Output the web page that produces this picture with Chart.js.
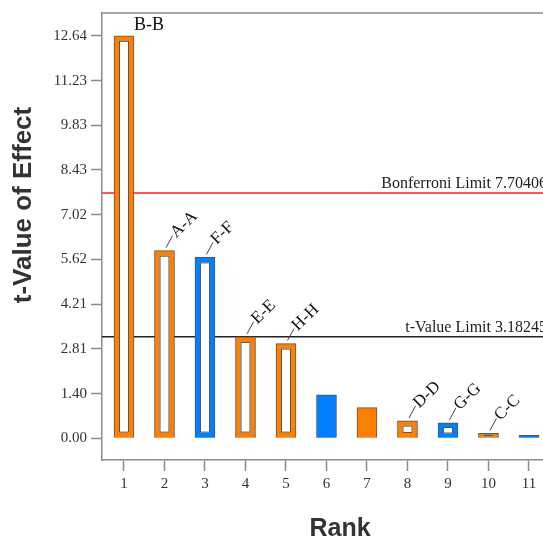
<!DOCTYPE html>
<html>
<head>
<meta charset="utf-8">
<script src="https://cdn.jsdelivr.net/npm/chart.js@4.4.1/dist/chart.umd.min.js"></script>
<style>
  html, body { margin: 0; padding: 0; background: #fff; overflow: hidden; }
  #wrap { width: 590px; height: 542px; }
</style>
</head>
<body>
<div id="wrap"><canvas id="pareto" width="590" height="542"></canvas></div>
<script>
const ranks = [1, 2, 3, 4, 5, 6, 7, 8, 9, 10, 11];
const tValues = [12.64, 5.89, 5.68, 3.18, 2.97, 1.36, 0.96, 0.54, 0.48, 0.15, 0.09];
const terms = ["B-B", "A-A", "F-F", "E-E", "H-H", "", "", "D-D", "G-G", "C-C", ""];
const effectSign = ["+", "+", "-", "+", "+", "-", "+", "+", "-", "+", "-"];
const inModel = [true, true, true, true, true, false, false, true, true, true, false];
const yTicks = [0.00, 1.40, 2.81, 4.21, 5.62, 7.02, 8.43, 9.83, 11.23, 12.64];
const bonferroniLimit = 7.70406;
const tValueLimit = 3.18245;

const ORANGE = "#ff8000";
const BLUE = "#0080ff";
const AXIS = "#8a8a8a";
const SERIF = "'Liberation Serif', 'DejaVu Serif', serif";
const SANS = "'Liberation Sans', Arial, sans-serif";

const X_MIN = 0.457, X_MAX = 12.21;
const Y_MIN = -0.687, Y_MAX = 13.358;

const hollowBars = {
  id: "hollowBars",
  afterDatasetsDraw(chart) {
    const ctx = chart.ctx;
    const meta = chart.getDatasetMeta(0);
    ctx.save();
    meta.data.forEach((bar, i) => {
      if (!inModel[i]) return;
      const h = bar.base - bar.y;
      const dy = Math.min(5, h * 0.28);
      const x0 = bar.x - bar.width / 2 + 5;
      const w = bar.width - 10;
      ctx.fillStyle = "#fff";
      ctx.fillRect(x0, bar.y + dy, w, h - 2 * dy);
      ctx.strokeStyle = "#555";
      ctx.lineWidth = 1;
      ctx.strokeRect(x0 + 0.5, bar.y + dy + 0.5, w - 1, Math.max(h - 2 * dy - 1, 0));
    });
    ctx.restore();
  }
};

const annotations = {
  id: "annotations",
  afterDraw(chart) {
    const ctx = chart.ctx;
    const area = chart.chartArea;
    const y = chart.scales.y;
    ctx.save();

    // top border of the plot box
    ctx.strokeStyle = AXIS;
    ctx.lineWidth = 1.5;
    ctx.beginPath();
    ctx.moveTo(area.left, area.top);
    ctx.lineTo(area.right, area.top);
    ctx.stroke();

    // limit texts
    ctx.fillStyle = "#222";
    ctx.font = "16px " + SERIF;
    ctx.textAlign = "right";
    ctx.textBaseline = "alphabetic";
    ctx.fillText("Bonferroni Limit " + bonferroniLimit, area.right - 31, y.getPixelForValue(bonferroniLimit) - 5);
    ctx.fillText("t-Value Limit " + tValueLimit, area.right - 31, y.getPixelForValue(tValueLimit) - 5);

    // term labels
    const meta = chart.getDatasetMeta(0);
    meta.data.forEach((bar, i) => {
      if (!terms[i]) return;
      ctx.fillStyle = "#111";
      ctx.font = "17px " + SERIF;
      if (bar.y - 45 < area.top) {
        ctx.font = "18px " + SERIF;
        ctx.textAlign = "left";
        ctx.fillText(terms[i], bar.x + bar.width / 2, bar.y - 6);
        return;
      }
      const x1 = bar.x + 1.5, y1 = bar.y - 3;
      const x2 = bar.x + 8, y2 = bar.y - 15;
      ctx.strokeStyle = "#444";
      ctx.lineWidth = 1;
      ctx.beginPath();
      ctx.moveTo(x1, y1);
      ctx.lineTo(x2, y2);
      ctx.stroke();
      ctx.save();
      ctx.translate(x2, y2);
      ctx.rotate(-44 * Math.PI / 180);
      ctx.textAlign = "left";
      ctx.textBaseline = "middle";
      ctx.fillText(terms[i], 1, 0);
      ctx.restore();
    });

    // axis titles
    ctx.fillStyle = "#333";
    ctx.font = "bold 25px " + SANS;
    ctx.textAlign = "center";
    ctx.textBaseline = "middle";
    ctx.fillText("Rank", 340, 529);
    ctx.save();
    ctx.translate(24, 205);
    ctx.rotate(-Math.PI / 2);
    ctx.font = "bold 26px " + SANS;
    ctx.fillText("t-Value of Effect", 0, 0);
    ctx.restore();

    ctx.restore();
  }
};

new Chart(document.getElementById("pareto"), {
  type: "bar",
  data: {
    datasets: [
      {
        type: "bar",
        data: ranks.map((r, i) => ({ x: r, y: tValues[i] })),
        backgroundColor: effectSign.map(s => (s === "+" ? ORANGE : BLUE)),
        borderColor: "#555",
        borderWidth: 1,
        barThickness: 20,
        order: 1
      },
      {
        type: "line",
        data: [{ x: X_MIN, y: bonferroniLimit }, { x: X_MAX, y: bonferroniLimit }],
        borderColor: "#ff5555",
        borderWidth: 2,
        pointRadius: 0,
        order: 2
      },
      {
        type: "line",
        data: [{ x: X_MIN, y: tValueLimit }, { x: X_MAX, y: tValueLimit }],
        borderColor: "#222",
        borderWidth: 1.5,
        pointRadius: 0,
        order: 3
      }
    ]
  },
  options: {
    responsive: false,
    animation: false,
    devicePixelRatio: 1,
    layout: { padding: { left: 0, top: 10, right: 12, bottom: 0 } },
    plugins: { legend: { display: false }, tooltip: { enabled: false } },
    scales: {
      x: {
        type: "linear",
        min: X_MIN,
        max: X_MAX,
        offset: false,
        afterBuildTicks: (scale) => { scale.ticks = ranks.map(v => ({ value: v })); },
        afterFit: (scale) => { scale.height = 82; },
        grid: { drawOnChartArea: false, offset: false, tickLength: 11, color: AXIS, tickWidth: 1.5 },
        border: { color: AXIS, width: 1.5 },
        ticks: { color: "#333", font: { family: SERIF, size: 15 }, padding: 4, maxRotation: 0 }
      },
      y: {
        min: Y_MIN,
        max: Y_MAX,
        afterBuildTicks: (scale) => { scale.ticks = yTicks.map(v => ({ value: v })); },
        afterFit: (scale) => { scale.width = 102; },
        grid: { drawOnChartArea: false, tickLength: 11, color: AXIS, tickWidth: 1.5 },
        border: { color: AXIS, width: 1.5 },
        ticks: { color: "#333", font: { family: SERIF, size: 15 }, padding: 4, callback: v => v.toFixed(2) }
      }
    }
  },
  plugins: [hollowBars, annotations]
});
</script>
</body>
</html>
